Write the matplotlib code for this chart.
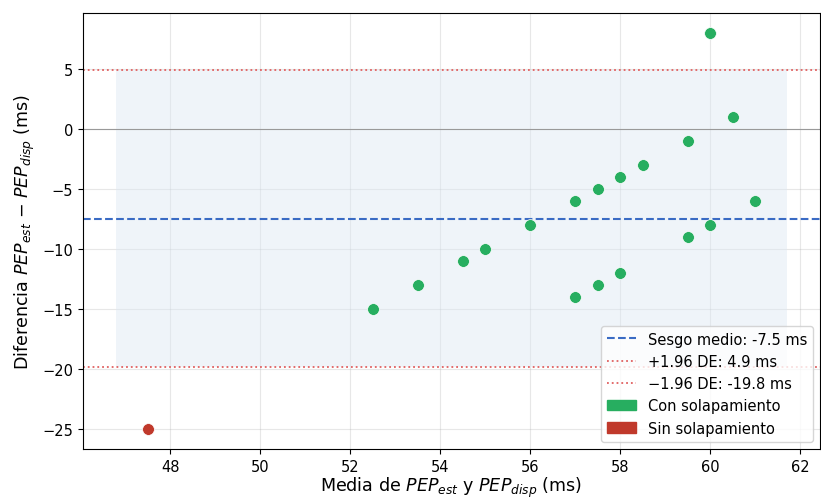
import matplotlib
matplotlib.use("Agg")
import matplotlib.pyplot as plt
from matplotlib.patches import Patch
from matplotlib.lines import Line2D

# medias y diferencias (ms)
media_solap = [52.5, 53.5, 54.5, 55.0, 56.0, 57.0, 57.5, 58.0, 58.5, 59.5,
               60.0, 60.5, 61.0, 57.0, 57.5, 58.0, 59.5, 60.0]
dif_solap = [-15, -13, -11, -10, -8, -6, -5, -4, -3, -1,
             8, 1, -6, -14, -13, -12, -9, -8]
media_sin = [47.5]
dif_sin = [-25]

sesgo = -7.5
lim_sup = 4.9
lim_inf = -19.8

verde = "#27ae60"
rojo = "#c0392b"
azul = "#3a6bc4"
rojo_lim = "#e06060"

plt.rcParams["xtick.labelsize"] = 10.5
plt.rcParams["ytick.labelsize"] = 10.5

fig = plt.figure(figsize=(8.21, 5.02), dpi=100)
ax = fig.add_axes([0.101, 0.104, 0.898, 0.868])

todas = media_solap + media_sin
x0, x1 = min(todas) - 0.7, max(todas) + 0.7
ax.fill_between([x0, x1], lim_inf, lim_sup, color="#dce8f3", alpha=0.45, linewidth=0)

ax.axhline(0, color="#999999", linewidth=0.8, zorder=1)
ax.axhline(sesgo, color=azul, linestyle="--", linewidth=1.5, zorder=2)
ax.axhline(lim_sup, color=rojo_lim, linestyle=":", linewidth=1.3, zorder=2)
ax.axhline(lim_inf, color=rojo_lim, linestyle=":", linewidth=1.3, zorder=2)

ax.scatter(media_solap, dif_solap, s=72, color=verde, edgecolors="white", linewidths=0.5, zorder=3)
ax.scatter(media_sin, dif_sin, s=72, color=rojo, edgecolors="white", linewidths=0.5, zorder=3)

ax.grid(True, alpha=0.3)
ax.set_axisbelow(True)
ax.set_xlabel(r"Media de $PEP_{est}$ y $PEP_{disp}$ (ms)", fontsize=12.6, labelpad=1)
ax.set_ylabel(r"Diferencia $PEP_{est}$ $-$ $PEP_{disp}$ (ms)", fontsize=12.6)

handles = [
    Line2D([0], [0], color=azul, linestyle="--", linewidth=1.5),
    Line2D([0], [0], color=rojo_lim, linestyle=":", linewidth=1.3),
    Line2D([0], [0], color=rojo_lim, linestyle=":", linewidth=1.3),
    Patch(color=verde),
    Patch(color=rojo),
]
labels = [
    f"Sesgo medio: {sesgo:.1f} ms",
    f"+1.96 DE: {lim_sup:.1f} ms",
    f"\u22121.96 DE: {lim_inf:.1f} ms",
    "Con solapamiento",
    "Sin solapamiento",
]
ax.legend(handles, labels, loc="lower right", fontsize=10.5)

fig.savefig("out.png", dpi=100)
